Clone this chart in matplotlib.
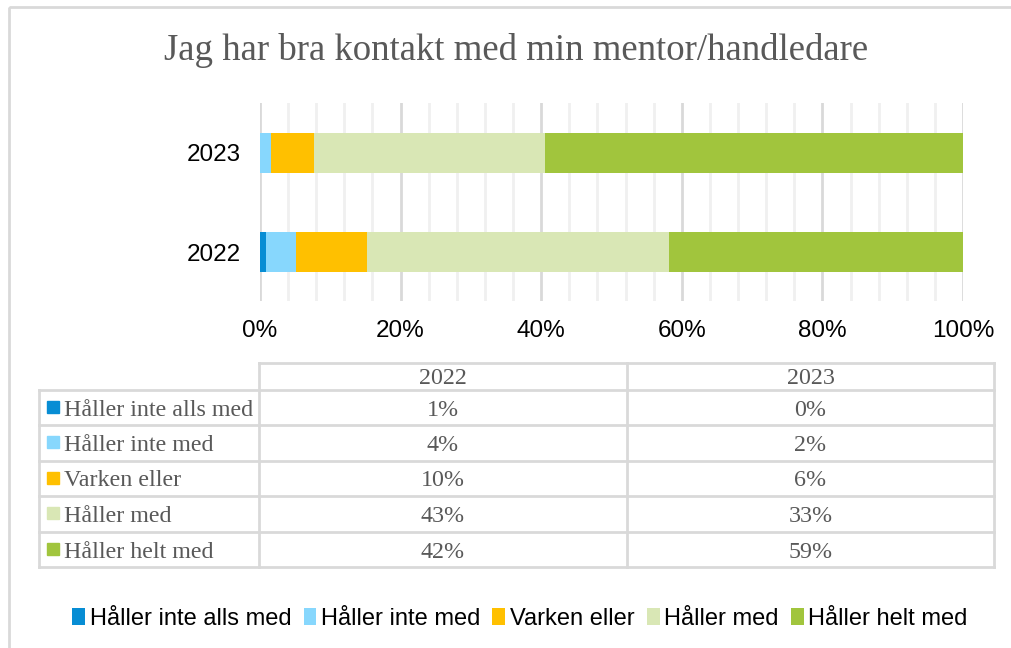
import matplotlib.pyplot as plt
from matplotlib.patches import Rectangle
from matplotlib.ticker import MultipleLocator, PercentFormatter

# data (percent)
years = ['2022', '2023']
categories = ['Håller inte alls med', 'Håller inte med', 'Varken eller', 'Håller med', 'Håller helt med']
values_2022 = [0.85, 4.2, 10.2, 42.9, 41.85]
values_2023 = [0.0, 1.57, 6.16, 32.87, 59.4]
colors = ['#078DD4', '#87D7FD', '#FFC000', '#D9E7B5', '#A1C53D']

title = 'Jag har bra kontakt med min mentor/handledare'
grey_text = '#595959'

W, H = 1011, 648
fig = plt.figure(figsize=(W / 100, H / 100), dpi=100)

# bar chart area (pixel positions from the reference)
ax = fig.add_axes([260 / W, 1 - 301 / H, (963 - 260) / W, (301 - 103) / H])

series = [[values_2022[i], values_2023[i]] for i in range(len(categories))]
left = [0, 0]
for name, vals, col in zip(categories, series, colors):
    ax.barh([0, 1], vals, left=left, height=0.40, color=col, label=name, zorder=3)
    left = [a + b for a, b in zip(left, vals)]

ax.set_xlim(0, 100)
ax.set_ylim(-0.49, 1.5)
ax.set_yticks([0, 1])
ax.set_yticklabels(years)
ax.xaxis.set_major_locator(MultipleLocator(20))
ax.xaxis.set_minor_locator(MultipleLocator(4))
ax.xaxis.set_major_formatter(PercentFormatter(decimals=0))
ax.grid(which='minor', axis='x', color='#F0F0F0', linewidth=2, zorder=0)
ax.grid(which='major', axis='x', color='#D9D9D9', linewidth=2, zorder=1)
ax.tick_params(which='both', length=0)
ax.tick_params(axis='x', labelsize=17.5, pad=14, colors='#000000')
ax.tick_params(axis='y', labelsize=17.5, pad=14, colors='#000000')
for lab in ax.get_xticklabels() + ax.get_yticklabels():
    lab.set_fontfamily('Liberation Sans')
for s in ax.spines.values():
    s.set_visible(False)

# overlay axes in pixel coordinates for title, frame and data table
ov = fig.add_axes([0, 0, 1, 1], zorder=-1)
ov.set_xlim(0, W)
ov.set_ylim(H, 0)
ov.axis('off')

ov.add_patch(Rectangle((9, 7), W + 20, H + 20, fill=False, edgecolor='#D9D9D9', linewidth=2))
ov.text(516, 51, title, ha='center', va='center', fontsize=26.5,
        family='Liberation Serif', color=grey_text)

# data table
tab = fig.add_axes([0, 0, 1, 1])
tab.set_xlim(0, W)
tab.set_ylim(H, 0)
tab.axis('off')
tab.patch.set_alpha(0)

line_kw = dict(color='#D9D9D9', linewidth=2)
x0, x1, x2, x3 = 39, 259, 627, 994
row_y = [363, 390, 425, 461, 496, 532, 567]

# header row only spans the year columns
tab.plot([x1, x3], [row_y[0], row_y[0]], **line_kw)
for y in row_y[1:]:
    tab.plot([x0, x3], [y, y], **line_kw)
tab.plot([x1, x1], [row_y[0], row_y[-1]], **line_kw)
tab.plot([x2, x2], [row_y[0], row_y[-1]], **line_kw)
tab.plot([x3, x3], [row_y[0], row_y[-1]], **line_kw)
tab.plot([x0, x0], [row_y[1], row_y[-1]], **line_kw)

txt_kw = dict(family='Liberation Serif', fontsize=17.3, color=grey_text, va='center_baseline')
tab.text((x1 + x2) / 2, (row_y[0] + row_y[1]) / 2, years[0], ha='center', **txt_kw)
tab.text((x2 + x3) / 2, (row_y[0] + row_y[1]) / 2, years[1], ha='center', **txt_kw)
for i, (name, col) in enumerate(zip(categories, colors)):
    yc = (row_y[i + 1] + row_y[i + 2]) / 2
    tab.add_patch(Rectangle((47, yc - 7), 12, 12, color=col))
    tab.text(64, yc, name, ha='left', **txt_kw)
    tab.text((x1 + x2) / 2, yc, f'{values_2022[i]:.0f}%', ha='center', **txt_kw)
    tab.text((x2 + x3) / 2, yc, f'{values_2023[i]:.0f}%', ha='center', **txt_kw)

# legend at the bottom
handles, labels = ax.get_legend_handles_labels()
fig.legend(handles, labels, loc='center', bbox_to_anchor=(520 / W, 1 - 619 / H), ncol=5,
           frameon=False, prop={'family': 'Liberation Sans', 'size': 17},
           handlelength=0.55, handleheight=0.7, handletextpad=0.2, columnspacing=0.5,
           labelcolor='#000000')

fig.savefig('out.png', dpi=100)
